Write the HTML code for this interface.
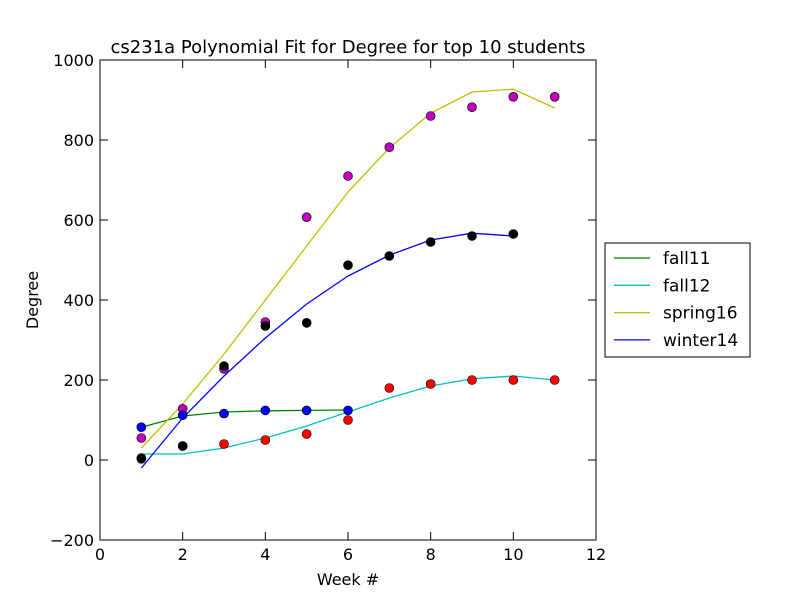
<!DOCTYPE html>
<html><head><meta charset="utf-8"><style>
body{margin:0;background:#fff;}
svg{font-family:"DejaVu Sans","Liberation Sans",sans-serif;}
</style></head><body>
<svg id="chart" width="800" height="600" viewBox="0 0 800 600">
<rect width="800" height="600" fill="#fff"/>
<text x="348" y="53" font-size="18" text-anchor="middle">cs231a Polynomial Fit for Degree for top 10 students</text>
<g id="plot"></g>
<rect x="100" y="60" width="496" height="480" fill="none" stroke="#000" stroke-width="1"/>
<text x="348" y="585" font-size="16" text-anchor="middle">Week #</text>
<text x="38" y="300" font-size="16" text-anchor="middle" transform="rotate(-90 38 300)">Degree</text>
<g id="legend"></g>
</svg>
<script>
const xTicks=[0,2,4,6,8,10,12];
const yTicks=[-200,0,200,400,600,800,1000];
const seriesNames=["fall11","fall12","spring16","winter14"];
const lineColors=["#008000","#00bfbf","#bfbf00","#0000ff"];
const dotColors=["#0000ff","#ff0000","#bf00bf","#000000"];
const fall11Weeks=[1,2,3,4,5,6];
const fall11Dots=[82,112,116,124,124,124];
const fall11Fit=[82,110,120,123,124,125];
const fall12Weeks=[1,2,3,4,5,6,7,8,9,10,11];
const fall12Dots=[3,35,40,50,65,100,180,190,200,200,200];
const fall12Fit=[15,15,30,55,85,120,155,185,203,210,200];
const spring16Weeks=[1,2,3,4,5,6,7,8,9,10,11];
const spring16Dots=[55,128,228,345,607,710,782,860,882,908,908];
const spring16Fit=[30,140,265,400,535,670,780,867,920,927,880];
const winter14Weeks=[1,2,3,4,5,6,7,8,9,10];
const winter14Dots=[5,35,235,335,343,487,510,545,560,565];
const winter14Fit=[-20,105,210,305,390,460,512,550,567,560];

const X=v=>100+(v-0)/12*496;
const Y=v=>540-(v+200)/1200*480;
const NS="http://www.w3.org/2000/svg";
const plot=document.getElementById('plot');
function mk(tag,attrs,parent){const e=document.createElementNS(NS,tag);for(const k in attrs)e.setAttribute(k,attrs[k]);(parent||plot).appendChild(e);return e;}

xTicks.forEach(t=>{
  const x=X(t);
  const a=mk('line',{x1:x,x2:x,y1:540,y2:532,stroke:'#000'});
  
  
  const b=mk('line',{x1:x,x2:x,y1:60,y2:68,stroke:'#000'});
  
  
  const l=mk('text',{x:x,y:560,'font-size':16,'text-anchor':'middle'});
  l.textContent=t;
  
  
});
yTicks.forEach(t=>{
  const y=Y(t);
  const a=mk('line',{x1:100,x2:108,y1:y,y2:y,stroke:'#000'});
  
  
  const b=mk('line',{x1:588,x2:596,y1:y,y2:y,stroke:'#000'});
  
  
  const l=mk('text',{x:94,y:y+6,'font-size':16,'text-anchor':'end'});
  l.textContent=String(t).replace('-','\u2212');
  
  
});

const weeks=[fall11Weeks,fall12Weeks,spring16Weeks,winter14Weeks];
const fits=[fall11Fit,fall12Fit,spring16Fit,winter14Fit];
const dots=[fall11Dots,fall12Dots,spring16Dots,winter14Dots];
fits.forEach((f,i)=>{
  const p=mk('polyline',{points:f.map((v,j)=>X(weeks[i][j])+','+Y(v)).join(' '),fill:'none',stroke:lineColors[i],'stroke-width':1.3});
  
  
});
[1,2,3,0].forEach(i=>{
  dots[i].forEach((v,j)=>{
    const c=mk('circle',{cx:X(weeks[i][j]),cy:Y(v),r:4.5,fill:dotColors[i],stroke:'#000','stroke-width':0.6});
    
    
  });
});

const lg=document.getElementById('legend');
const box=mk('rect',{x:605,y:243,width:145,height:114,fill:'#fff',stroke:'#000'},lg);


seriesNames.forEach((n,i)=>{
  const y=258+i*27.3;
  const ln=mk('line',{x1:614,x2:650,y1:y,y2:y,stroke:lineColors[i],'stroke-width':1.3},lg);
  
  
  const t=mk('text',{x:663,y:y+6,'font-size':17},lg);
  t.textContent=n;
  
  
});
</script>
</body></html>
